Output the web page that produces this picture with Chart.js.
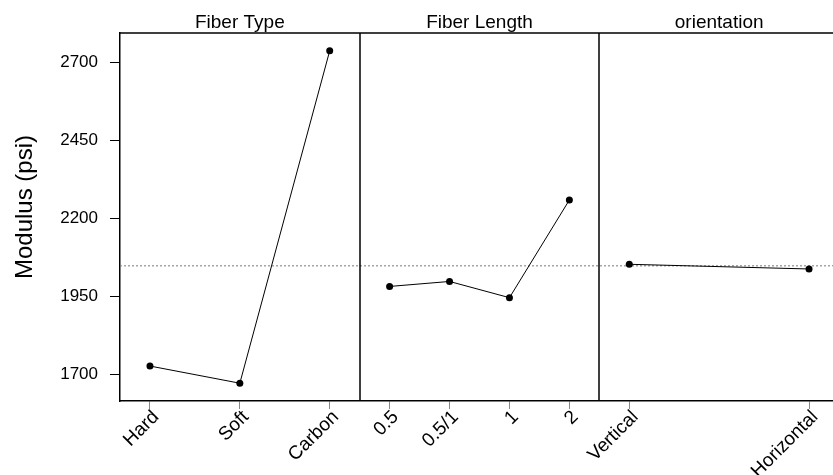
<!DOCTYPE html>
<html>
<head>
<meta charset="utf-8">
<script src="https://cdn.jsdelivr.net/npm/chart.js@4"></script>
<style>
  html, body { margin: 0; padding: 0; background: #fff; overflow: hidden; }
  #wrap { width: 833px; height: 475px; overflow: hidden; }
</style>
</head>
<body>
<div id="wrap"><canvas id="effectsChart" width="837" height="475"></canvas></div>
<script>
// Main effects data (means of Modulus for each factor level)
const panelTitles = ['Fiber Type', 'Fiber Length', 'orientation'];
const fiberTypeLabels = ['Hard', 'Soft', 'Carbon'];
const fiberTypeMeans = [1727, 1672, 2737];
const fiberLengthLabels = ['0.5', '0.5/1', '1', '2'];
const fiberLengthMeans = [1982, 1998, 1946, 2259];
const orientationLabels = ['Vertical', 'Horizontal'];
const orientationMeans = [2053, 2038];
const grandMean = 2048;
const yTicks = [1700, 1950, 2200, 2450, 2700];
const yLabel = 'Modulus (psi)';

const FONT = '"Liberation Sans", Arial, sans-serif';
const X_MAX = 2.975; // third panel is cut off at the right edge

// each panel spans one unit on x, levels spread between 0.125 and 0.875
function levelPos(panel, i, n) {
  return panel + 0.125 + 0.75 * i / (n - 1);
}

const panels = [
  { labels: fiberTypeLabels, means: fiberTypeMeans },
  { labels: fiberLengthLabels, means: fiberLengthMeans },
  { labels: orientationLabels, means: orientationMeans }
];

let tickPositions = [];
let tickLabels = [];
const datasets = panels.map((p, k) => {
  const pts = p.means.map((m, i) => {
    const x = levelPos(k, i, p.means.length);
    tickPositions.push(x);
    tickLabels.push(p.labels[i]);
    return { x: x, y: m };
  });
  return {
    data: pts,
    borderColor: '#000',
    borderWidth: 1,
    pointRadius: 3.5,
    pointBackgroundColor: '#000',
    pointBorderWidth: 0,
    order: 1
  };
});

datasets.push({
  data: [{ x: 0, y: grandMean }, { x: X_MAX, y: grandMean }],
  borderColor: '#777',
  borderWidth: 1,
  borderDash: [2, 2],
  pointRadius: 0,
  order: 10
});

// frame, dividers, panel titles and y label
const panelPlugin = {
  id: 'panels',
  afterDraw(chart) {
    const { ctx, chartArea } = chart;
    const xs = chart.scales.x;
    ctx.save();
    ctx.strokeStyle = '#000';
    ctx.lineWidth = 1.5;
    ctx.beginPath();
    ctx.moveTo(chartArea.left, chartArea.top);
    ctx.lineTo(chartArea.right, chartArea.top);
    [1, 2].forEach(v => {
      const px = Math.round(xs.getPixelForValue(v));
      ctx.moveTo(px, chartArea.top);
      ctx.lineTo(px, chartArea.bottom);
    });
    ctx.stroke();

    ctx.fillStyle = '#000';
    ctx.font = '19px ' + FONT;
    ctx.textAlign = 'center';
    ctx.textBaseline = 'alphabetic';
    panelTitles.forEach((t, k) => {
      const cx = (xs.getPixelForValue(k) + xs.getPixelForValue(k + 1)) / 2;
      ctx.fillText(t, cx, chartArea.top - 5);
    });

    ctx.translate(25, 207);
    ctx.rotate(-Math.PI / 2);
    ctx.font = '24px ' + FONT;
    ctx.textBaseline = 'middle';
    ctx.fillText(yLabel, 0, 0);
    ctx.restore();
  }
};

new Chart(document.getElementById('effectsChart'), {
  type: 'line',
  data: { datasets: datasets },
  plugins: [panelPlugin],
  options: {
    responsive: false,
    animation: false,
    layout: { padding: { top: 33, right: 0, left: 0, bottom: 0 } },
    plugins: {
      legend: { display: false },
      tooltip: { enabled: false }
    },
    scales: {
      x: {
        type: 'linear',
        min: 0,
        max: X_MAX,
        afterBuildTicks: scale => {
          scale.ticks = tickPositions.map(v => ({ value: v }));
        },
        afterFit: scale => {
          scale.height = 74;
          scale.paddingLeft = 0;
          scale.paddingRight = 0;
        },
        grid: { drawOnChartArea: false, tickLength: 8, color: '#888' },
        border: { display: true, color: '#000', width: 1.5 },
        ticks: {
          autoSkip: false,
          maxRotation: 45,
          minRotation: 45,
          padding: -3,
          labelOffset: 6,
          color: '#000',
          font: { family: FONT, size: 19 },
          callback: (value, index) => tickLabels[index]
        }
      },
      y: {
        min: 1615,
        max: 2794,
        afterBuildTicks: scale => {
          scale.ticks = yTicks.map(v => ({ value: v }));
        },
        afterFit: scale => {
          scale.width = 120;
          scale.paddingTop = 0;
          scale.paddingBottom = 0;
        },
        grid: { drawOnChartArea: false, tickLength: 10, color: '#000' },
        border: { display: true, color: '#000', width: 1.5 },
        ticks: {
          padding: 12,
          color: '#000',
          font: { family: FONT, size: 17 },
          callback: value => String(value)
        }
      }
    }
  }
});
</script>
</body>
</html>
